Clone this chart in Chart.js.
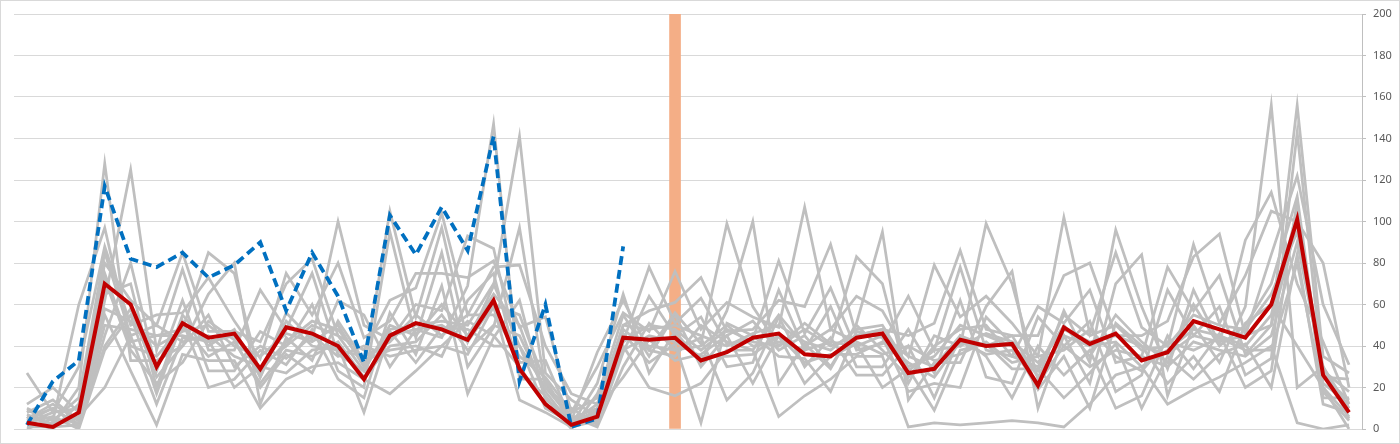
<!DOCTYPE html>
<html>
<head>
<meta charset="utf-8">
<script src="https://cdn.jsdelivr.net/npm/chart.js@4.4.1/dist/chart.umd.min.js"></script>
<style>
  html, body { margin: 0; padding: 0; background: #fff; }
  #wrap { width: 1400px; height: 444px; position: relative; }
</style>
</head>
<body>
<div id="wrap"><canvas id="chart"></canvas></div>
<script>
const categories = ['1','2','3','4','5','6','7','8','9','10','11','12','13','14','15','16','17','18','19','20',
  '21','22','23','24','25','26','27','28','29','30','31','32','33','34','35','36','37','38','39','40',
  '41','42','43','44','45','46','47','48','49','50','51','52'];

// highlighted column
const markerCategory = '26';
const markerValue = 200;

// red average line
const average = [3, 1, 8, 70, 60, 30, 51, 44, 46, 29, 49, 46, 40, 24, 45, 51, 48, 43, 62, 29,
  12, 2, 6, 44, 43, 44, 33, 37, 44, 46, 36, 35, 44, 46, 27, 29, 43, 40, 41, 21,
  49, 41, 46, 33, 37, 52, 48, 44, 60, 101, 26, 8];

// blue dashed line (stops early)
const current = [2, 23, 33, 117, 82, 78, 85, 73, 79, 90, 57, 85, 64, 32, 103, 84, 107, 86, 141, 23,
  60, 1, 5, 88];

// gray background lines
const g1 = [27, 8, 30, 88, 50, 55, 56, 73, 52, 34, 75, 55, 80, 44, 52, 75, 75, 73, 81, 49,
  54, 8, 30, 56, 47, 76, 48, 61, 54, 49, 107, 48, 64, 57, 35, 79, 54, 64, 51, 35,
  102, 46, 85, 49, 40, 89, 51, 74, 105, 100, 80, 20];
const g2 = [12, 20, 8, 80, 62, 50, 85, 47, 47, 42, 70, 82, 45, 38, 62, 68, 104, 55, 78, 79,
  40, 17, 12, 50, 57, 61, 73, 47, 48, 62, 59, 89, 45, 48, 45, 51, 86, 48, 45, 45,
  74, 80, 45, 45, 52, 83, 94, 45, 84, 122, 60, 31];
const g3 = [10, 4, 60, 97, 42, 45, 48, 85, 75, 25, 56, 43, 100, 50, 43, 60, 57, 93, 87, 32,
  33, 4, 37, 62, 38, 56, 41, 99, 59, 40, 51, 41, 83, 70, 22, 45, 40, 99, 70, 24,
  57, 32, 96, 59, 29, 67, 41, 91, 114, 70, 42, 12];
const g4 = [8, 14, 4, 62, 125, 38, 77, 38, 38, 67, 48, 75, 36, 28, 105, 54, 97, 42, 69, 141,
  27, 14, 6, 42, 78, 51, 63, 41, 43, 81, 46, 68, 38, 41, 64, 38, 78, 38, 35, 59,
  51, 67, 32, 35, 78, 57, 74, 36, 50, 156, 35, 27];
const g5 = [6, 2, 20, 128, 33, 33, 40, 65, 80, 12, 44, 33, 62, 55, 30, 48, 44, 69, 147, 24,
  24, 2, 22, 65, 27, 47, 32, 57, 100, 22, 41, 29, 51, 95, 14, 32, 32, 59, 76, 10,
  45, 22, 70, 84, 16, 50, 32, 59, 156, 20, 30, 5];
const g6 = [5, 10, 1, 45, 80, 28, 62, 28, 28, 47, 40, 60, 28, 20, 95, 44, 85, 30, 49, 97,
  20, 10, 2, 37, 64, 45, 54, 30, 32, 67, 38, 59, 30, 30, 48, 27, 62, 25, 22, 54,
  40, 52, 18, 26, 67, 45, 59, 26, 34, 143, 25, 24];
const g7 = [4, 0, 12, 72, 38, 22, 32, 52, 43, 20, 36, 27, 52, 33, 38, 40, 35, 62, 75, 27,
  16, 0, 17, 46, 32, 41, 3, 51, 45, 35, 34, 18, 47, 44, 18, 22, 20, 54, 41, 19,
  35, 10, 51, 40, 22, 35, 18, 51, 60, 40, 20, 0];
const g8 = [3, 6, 0, 38, 55, 17, 52, 20, 24, 38, 31, 48, 24, 15, 56, 36, 69, 17, 44, 62,
  14, 6, 1, 30, 51, 38, 44, 14, 27, 54, 30, 44, 26, 26, 40, 15, 45, 35, 15, 40,
  26, 38, 10, 16, 45, 29, 46, 20, 28, 110, 15, 15];
const g9 = [2, 3, 6, 20, 45, 12, 44, 43, 20, 30, 27, 38, 40, 8, 47, 32, 49, 48, 40, 40,
  10, 3, 9, 25, 43, 33, 36, 45, 22, 45, 22, 35, 41, 20, 29, 9, 38, 41, 29, 29,
  15, 27, 41, 10, 35, 24, 36, 41, 20, 84, 12, 8];
const g10 = [1, 1, 2, 55, 28, 2, 36, 33, 33, 10, 24, 30, 32, 24, 17, 28, 40, 36, 59, 14,
  8, 1, 4, 40, 20, 16, 22, 38, 38, 6, 16, 24, 35, 35, 1, 3, 2, 3, 4, 3,
  1, 12, 26, 30, 12, 19, 25, 32, 40, 3, 0, 2];
const g11 = [5, 12, 4, 58, 52, 40, 47, 50, 40, 35, 46, 42, 50, 30, 48, 50, 52, 50, 70, 40,
  20, 5, 10, 50, 48, 50, 45, 40, 46, 50, 42, 38, 48, 50, 30, 35, 50, 45, 40, 28,
  55, 45, 50, 38, 40, 55, 50, 48, 65, 95, 30, 10];
const g12 = [9, 4, 15, 85, 45, 50, 42, 45, 35, 30, 40, 50, 45, 28, 50, 45, 60, 45, 65, 50,
  15, 3, 12, 45, 40, 38, 40, 50, 40, 42, 38, 42, 40, 45, 35, 30, 45, 40, 45, 25,
  45, 40, 42, 30, 38, 48, 45, 40, 55, 105, 25, 14];
const g13 = [3, 8, 10, 65, 70, 20, 55, 40, 48, 25, 52, 40, 38, 35, 42, 55, 45, 55, 55, 35,
  25, 8, 15, 55, 35, 55, 30, 45, 52, 38, 45, 30, 50, 38, 25, 40, 48, 50, 35, 30,
  50, 35, 55, 42, 32, 60, 40, 50, 70, 112, 20, 6];
const g14 = [7, 2, 5, 75, 40, 35, 50, 35, 42, 22, 38, 35, 42, 25, 40, 42, 55, 38, 50, 45,
  18, 2, 8, 38, 45, 42, 35, 35, 36, 45, 32, 36, 36, 42, 32, 25, 42, 36, 38, 22,
  40, 30, 38, 35, 30, 42, 38, 35, 45, 90, 28, 18];
const g15 = [0, 5, 3, 40, 58, 25, 40, 55, 30, 40, 34, 45, 35, 40, 35, 38, 40, 52, 45, 30,
  12, 4, 3, 48, 38, 35, 50, 42, 38, 55, 40, 48, 42, 36, 40, 33, 36, 42, 32, 35,
  38, 48, 35, 28, 42, 38, 44, 38, 38, 80, 18, 4];
const g16 = [4, 10, 2, 50, 48, 45, 45, 42, 45, 28, 42, 52, 48, 32, 45, 48, 50, 42, 60, 55,
  22, 6, 5, 42, 50, 48, 38, 48, 42, 40, 48, 40, 45, 48, 28, 38, 40, 46, 42, 32,
  48, 42, 45, 40, 36, 45, 42, 45, 50, 100, 22, 12];

const grayColor = '#BFBFBF';
const grayLines = [g1, g2, g3, g4, g5, g6, g7, g8, g9, g10, g11, g12, g13, g14, g15, g16].map((values, i) => ({
  type: 'line',
  label: 'g' + (i + 1),
  data: values,
  borderColor: grayColor,
  borderWidth: 2.75,
  pointRadius: 0,
  tension: 0,
  order: 2
}));

// light frame round the whole chart, like the Excel chart border
const framePlugin = {
  id: 'frame',
  afterDraw(chart) {
    const c = chart.ctx;
    c.save();
    c.strokeStyle = '#D9D9D9';
    c.lineWidth = 1;
    c.strokeRect(0.5, 0.5, chart.width - 1, chart.height - 1);
    c.restore();
  }
};

new Chart(document.getElementById('chart'), {
  data: {
    labels: categories,
    datasets: [
      {
        type: 'line',
        label: 'average',
        data: average,
        borderColor: '#C00000',
        borderWidth: 4,
        pointRadius: 0,
        tension: 0,
        order: 0
      },
      {
        type: 'line',
        label: 'current',
        data: current,
        borderColor: '#0070C0',
        borderWidth: 3.75,
        borderDash: [9, 5],
        pointRadius: 0,
        tension: 0,
        order: 1
      },
      ...grayLines,
      {
        type: 'bar',
        label: 'marker',
        data: [{ x: markerCategory, y: markerValue }],
        backgroundColor: '#F4AE86',
        barThickness: 11,
        order: 3
      }
    ]
  },
  options: {
    responsive: true,
    maintainAspectRatio: false,
    animation: false,
    devicePixelRatio: 1,
    layout: { padding: { left: 14, top: 14, right: 0, bottom: 15 } },
    plugins: {
      legend: { display: false },
      tooltip: { enabled: false }
    },
    scales: {
      x: {
        type: 'category',
        offset: true,
        display: false
      },
      y: {
        position: 'right',
        min: 0,
        max: 200,
        ticks: {
          stepSize: 20,
          color: '#595959',
          padding: 7,
          font: { family: 'Noto Sans', size: 11 }
        },
        grid: {
          color: '#D9D9D9',
          tickColor: '#BFBFBF',
          tickLength: 4
        },
        border: { color: '#BFBFBF' },
        afterFit(scale) { scale.width = 38; }
      }
    }
  },
  plugins: [framePlugin]
});
</script>
</body>
</html>
